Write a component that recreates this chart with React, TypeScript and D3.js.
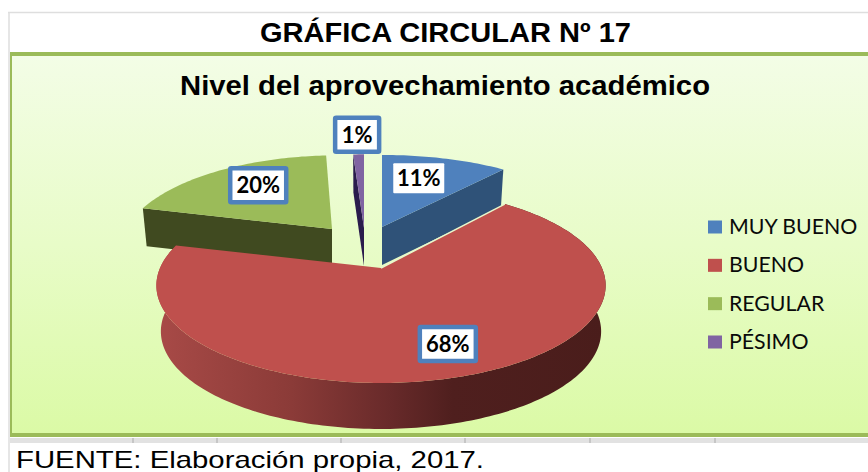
import React from "react";
import * as d3 from "d3";

const categories = ["MUY BUENO", "BUENO", "REGULAR", "PÉSIMO"];
const percentages = [11, 68, 20, 1];
const topColors = ["#4f81bd", "#bf504d", "#9bbb59", "#8064a2"];
const wallColors = ["#2f5278", "#7a2e2c", "#404a20", "#2a1c4c"];
const sliceCenters: [number, number][] = [[382, 227], [381, 268], [332, 229], [364, 228]];
const sliceScalesX = [0.98, 1, 0.93, 0.92];
const sliceScalesY = [0.9, 1, 0.92, 0.92];
const sliceSkews = [0, 0, 6, 0];
const labelRadii = [0.68, 0.74, 0.72, 1.33];
const labelNudges = [-8, 9, 9, 0];
const labelBorders = [false, true, true, true];
const tableTicks = [133, 217, 341, 465, 590, 715];
const titleText = "GRÁFICA CIRCULAR Nº 17";
const subtitleText = "Nivel del aprovechamiento académico";
const sourceText = "FUENTE: Elaboración propia, 2017.";

const W = 868, H = 472;
const B = 221, A = 94.4, P = 0.179;
const DEPTH_RED = 46, DEPTH_OTHER = 38;

function project(i: number, angle: number, r: number, z = 0): [number, number] {
  const X = r * Math.sin(angle), Y = r * Math.cos(angle);
  const den = 1 + P * Y;
  const [cx, cy] = sliceCenters[i];
  const depth = i === 1 ? DEPTH_RED : DEPTH_OTHER;
  return [
    cx + ((sliceScalesX[i] * B * X) / den) * (1 - 0.02 * z) + (sliceSkews[i] * Y) / den,
    cy - (sliceScalesY[i] * A * Y) / den + depth * z,
  ];
}

const pie = d3.pie<number>().sort(null).startAngle(0).endAngle(2 * Math.PI);
const arcs = pie(percentages);
const line = d3.line();

function rim(i: number, a0: number, a1: number, z: number): [number, number][] {
  const n = Math.max(2, Math.ceil(Math.abs(a1 - a0) / 0.02));
  return d3.range(n + 1).map((j) => project(i, a0 + ((a1 - a0) * j) / n, 1, z));
}
const closed = (pts: [number, number][]) => (line(pts) as string) + "Z";

const legendY = d3.scalePoint<string>().domain(categories).range([227, 342]);

export default function App() {
  const slice = (i: number) => arcs[i];
  const top = (i: number) =>
    closed([project(i, 0, 0), ...rim(i, slice(i).startAngle, slice(i).endAngle, 0)]);
  const radialWall = (i: number, a: number) =>
    closed([project(i, a, 0, 0), project(i, a, 1, 0), project(i, a, 1, 1), project(i, a, 0, 1)]);
  const outerWall = (i: number) => {
    const { startAngle: a0, endAngle: a1 } = slice(i);
    return closed([...rim(i, a0, a1, 0), ...rim(i, a1, a0, 1)]);
  };
  const seam = line([project(1, slice(1).startAngle, 0), project(1, slice(1).startAngle, 1)]) as string;

  return (
    <svg width={W} height={H} viewBox={`0 0 ${W} ${H}`}
      style={{ position: "fixed", left: 0, top: 0, background: "#fff", display: "block" }}>
      <defs>
        <linearGradient id="panelBg" x1="0" y1="0" x2="0" y2="1">
          <stop offset="0" stopColor="#f3fde6" />
          <stop offset="0.5" stopColor="#e8fcc8" />
          <stop offset="1" stopColor="#dbfaa6" />
        </linearGradient>
        <linearGradient id="redWall" gradientUnits="userSpaceOnUse" x1="157" y1="0" x2="605" y2="0">
          <stop offset="0" stopColor="#a84a47" />
          <stop offset="0.3" stopColor="#8b3b38" />
          <stop offset="0.52" stopColor="#682a2a" />
          <stop offset="0.66" stopColor="#4f1f1e" />
          <stop offset="1" stopColor="#4a1d1b" />
        </linearGradient>
      </defs>

      <line x1="8" x2={W} y1="12.5" y2="12.5" stroke="#dedede" strokeWidth="1.5" />
      <line x1="9" x2="9" y1="12" y2={H} stroke="#dedede" strokeWidth="1.5" />
      <rect x="10" y="438" width={W - 10} height="5" fill="#e2e2e2" />
      {tableTicks.map((x) => <line key={x} x1={x} x2={x} y1="438" y2="443" stroke="#bcbcbc" strokeWidth="1.5" />)}

      <rect x="10" y="52" width={W - 10} height="385" fill="#9bbb59" />
      <rect x="12" y="56" width={W - 12} height="377" fill="url(#panelBg)" />

      <text x="445.5" y="42" textAnchor="middle" textLength="371" lengthAdjust="spacingAndGlyphs"
        fontFamily="Liberation Sans" fontWeight="700" fontSize="27" fill="#000">{titleText}</text>
      <text x="445" y="95" textAnchor="middle" textLength="530" lengthAdjust="spacingAndGlyphs"
        fontFamily="Liberation Sans" fontWeight="700" fontSize="27.5" fill="#000">{subtitleText}</text>

      <path d={radialWall(2, slice(2).startAngle)} fill={wallColors[2]} />
      <path d={top(2)} fill={topColors[2]} />
      <path d={radialWall(0, slice(0).endAngle)} fill={wallColors[0]} />
      <path d={top(0)} fill={topColors[0]} />
      <path d={radialWall(3, slice(3).startAngle)} fill={wallColors[3]} />
      <path d={top(3)} fill={topColors[3]} />

      <path d={outerWall(1)} fill="url(#redWall)" />
      <path d={top(1)} fill={topColors[1]} />
      <path d={seam} stroke="#e8f8cc" strokeWidth="1.5" fill="none" />

      {arcs.map((a, i) => {
        const mid = (a.startAngle + a.endAngle) / 2;
        const [x, y] = project(i, mid, labelRadii[i]);
        const cx = x + labelNudges[i];
        const label = `${percentages[i]}%`;
        const w = i === 3 ? 44 : labelBorders[i] ? 56 : 51;
        const h = labelBorders[i] ? 34 : 30;
        return (
          <g key={categories[i]}>
            <rect x={cx - w / 2} y={y - h / 2} width={w} height={h} fill="#fff"
              stroke={labelBorders[i] ? "#4f81bd" : "none"} strokeWidth="4.5" rx="1" />
            <text x={cx} y={y + 8} textAnchor="middle" fontFamily="Lato" fontWeight="700" fontSize="22" fill="#000">{label}</text>
          </g>
        );
      })}

      {categories.map((c, i) => (
        <g key={c}>
          <rect x="708" y={(legendY(c) as number) - 6.5} width="14" height="13" fill={topColors[i]} />
          <text x="729" y={(legendY(c) as number) + 7} fontFamily="Lato" fontSize="21.3" fill="#0a0a0a">{c}</text>
        </g>
      ))}

      <text x="16" y="467.5" textLength="468" lengthAdjust="spacingAndGlyphs"
        fontFamily="Liberation Sans" fontSize="24" fill="#000">{sourceText}</text>
    </svg>
  );
}
